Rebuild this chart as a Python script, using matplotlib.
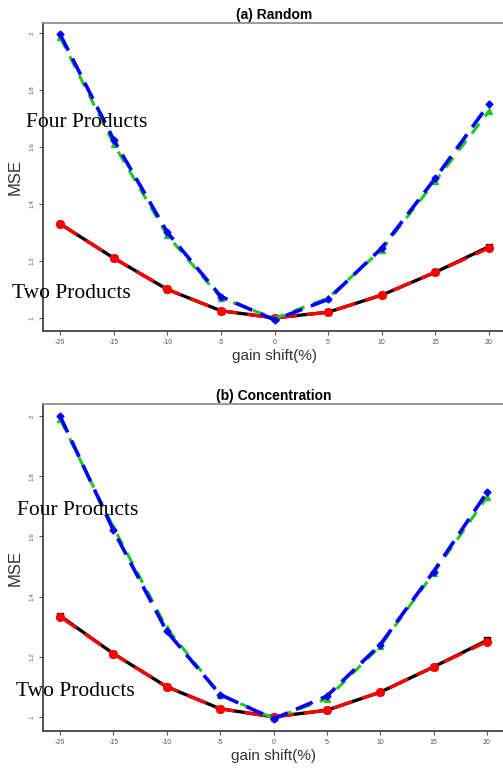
import matplotlib
matplotlib.use("Agg")
from matplotlib import pyplot as plt

# gain shift values (x axis)
shift = [-20, -15, -10, -5, 0, 5, 10, 15, 20]

# (a) Random
a_four_blue = [1.995, 1.625, 1.30, 1.075, 0.993, 1.065, 1.245, 1.49, 1.75]
a_four_green = [1.985, 1.61, 1.29, 1.07, 0.998, 1.07, 1.24, 1.48, 1.725]
a_two_black = [1.33, 1.21, 1.10, 1.025, 1.0, 1.02, 1.08, 1.16, 1.25]
a_two_red = [1.33, 1.21, 1.10, 1.025, 1.0, 1.02, 1.08, 1.16, 1.245]

# (b) Concentration
b_four_blue = [2.0, 1.62, 1.284, 1.074, 0.993, 1.069, 1.24, 1.483, 1.746]
b_four_green = [1.99, 1.63, 1.295, 1.074, 0.995, 1.06, 1.235, 1.478, 1.73]
b_two_black = [1.336, 1.21, 1.10, 1.027, 1.0, 1.022, 1.082, 1.166, 1.254]
b_two_red = [1.333, 1.21, 1.10, 1.027, 1.0, 1.022, 1.082, 1.166, 1.25]

yticks = [1, 1.2, 1.4, 1.6, 1.8, 2]
ytick_labels = ["1", "1.2", "1.4", "1.6", "1.8", "2"]
xticks = [-20, -15, -10, -5, 0, 5, 10, 15, 20]

sans = ["Liberation Sans Narrow", "Liberation Sans", "DejaVu Sans"]
serif = ["Liberation Serif", "DejaVu Serif"]

fig = plt.figure(figsize=(5.03, 7.79), dpi=100)


def draw(ax, title, blue, green, black, red, ylim):
    ax.plot(shift, black, color="black", lw=2.4, marker="s", ms=5, zorder=3)
    ax.plot(shift, red, color="red", lw=2.4, marker="o", ms=5.5,
            dashes=(6, 3), zorder=4)
    ax.plot(shift, green, color="#1ec81e", lw=2.2, marker="^", ms=5,
            dashes=(4, 3), zorder=5)
    ax.plot(shift, blue, color="blue", lw=2.6, marker="D", ms=3.5,
            dashes=(5, 2.5), zorder=6)
    ax.set_xlim(-21.6, 21.6)
    ax.set_ylim(*ylim)
    ax.set_xticks(xticks)
    ax.set_xticklabels([str(v) for v in xticks], fontsize=5, color="#444444",
                       family=sans)
    ax.set_yticks(yticks)
    ax.set_yticklabels(ytick_labels, fontsize=4.5, color="#444444",
                       rotation=90, va="center", family=sans)
    ax.tick_params(direction="out", length=3, width=0.8, colors="#555555",
                   pad=3)
    for side in ["top", "right"]:
        ax.spines[side].set_color("#888888")
        ax.spines[side].set_linewidth(1.2)
    for side in ["left", "bottom"]:
        ax.spines[side].set_color("#444444")
        ax.spines[side].set_linewidth(1.3)
    ax.set_title(title, fontsize=10, fontweight="bold", family=sans, pad=3)
    ax.set_xlabel("gain shift(%)", fontsize=11, color="#333333", family=sans,
                  labelpad=2)
    ax.set_ylabel("MSE", fontsize=12, color="#333333", family=sans,
                  labelpad=5)


ax1 = fig.add_axes([43 / 503, 1 - 331 / 779, 463 / 503, 308 / 779])
draw(ax1, "(a) Random", a_four_blue, a_four_green, a_two_black, a_two_red,
     (0.954, 2.035))

ax2 = fig.add_axes([43 / 503, 1 - 731 / 779, 461 / 503, 327 / 779])
draw(ax2, "(b) Concentration", b_four_blue, b_four_green, b_two_black,
     b_two_red, (0.953, 2.04))

# annotations in a serif face
fig.text(26 / 503, 1 - 127 / 779, "Four Products", family=serif, fontsize=15.5,
         va="baseline")
fig.text(12 / 503, 1 - 298 / 779, "Two Products", family=serif, fontsize=15.5,
         va="baseline")
fig.text(17 / 503, 1 - 515 / 779, "Four Products", family=serif, fontsize=15.5,
         va="baseline")
fig.text(16 / 503, 1 - 696 / 779, "Two Products", family=serif, fontsize=15.5,
         va="baseline")

fig.savefig("out.png", dpi=100)
